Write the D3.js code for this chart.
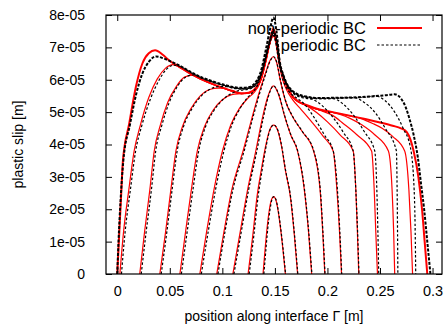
<!DOCTYPE html>
<html><head><meta charset="utf-8">
<script src="https://cdn.jsdelivr.net/npm/d3@7"></script>
<style>body{margin:0;background:#fff}svg{display:block}text{font-family:"Liberation Sans",Arial,sans-serif}</style>
</head><body><svg id="c" width="446" height="326"></svg>
<script>
// y values in units of 1e-5 m
const Y_UNIT = 1e-5;
const xTicks = [0, 0.05, 0.1, 0.15, 0.2, 0.25, 0.3];
const xTickLabels = ["0", "0.05", "0.1", "0.15", "0.2", "0.25", "0.3"];
const yTicks = [0, 1e-5, 2e-5, 3e-5, 4e-5, 5e-5, 6e-5, 7e-5, 8e-5];
const yTickLabels = ["0", "1e-05", "2e-05", "3e-05", "4e-05", "5e-05", "6e-05", "7e-05", "8e-05"];
const seriesNames = ["non-periodic BC", "periodic BC"];

// non-periodic BC (red), curves from innermost (c1) to outermost (c10)
const red_c1 = [[0.1387,0],[0.1405,0.7],[0.1425,1.4],[0.1448,2.0],[0.1468,2.3],[0.1488,2.39],[0.1508,2.3],[0.1528,2.0],[0.155,1.5],[0.1575,0.8],[0.160,0]];
const red_c2 = [[0.1245,0],[0.129,1.2],[0.133,2.39],[0.137,3.2],[0.1415,4.0],[0.145,4.45],[0.1488,4.6],[0.1525,4.45],[0.156,4.0],[0.160,3.2],[0.1647,2.39],[0.1685,1.2],[0.1716,0]];
const red_c3 = [[0.110,0],[0.117,1.3],[0.124,2.6],[0.132,3.83],[0.138,4.8],[0.143,5.45],[0.1485,5.81],[0.154,5.5],[0.159,4.9],[0.165,4.3],[0.1715,3.8],[0.178,2.6],[0.182,1.3],[0.185,0]];
const red_c4 = [[0.0947,0],[0.1015,1.3],[0.109,2.6],[0.120,3.83],[0.128,4.8],[0.135,5.6],[0.141,6.2],[0.1455,6.6],[0.1485,6.71],[0.1515,6.55],[0.155,6.0],[0.160,5.35],[0.167,4.85],[0.176,4.4],[0.1865,3.83],[0.193,2.6],[0.1955,1.3],[0.1975,0]];
const red_c5 = [[0.0786,0],[0.085,1.3],[0.092,2.6],[0.1001,3.8],[0.108,4.6],[0.116,5.1],[0.124,5.42],[0.130,5.6],[0.135,5.85],[0.139,6.3],[0.143,6.85],[0.1465,7.25],[0.1485,7.35],[0.1505,7.2],[0.1535,6.6],[0.157,6.05],[0.161,5.7],[0.167,5.38],[0.175,5.08],[0.185,4.7],[0.196,4.25],[0.2055,3.8],[0.209,2.6],[0.2115,1.3],[0.2134,0]];
const red_c6 = [[0.0596,0],[0.065,1.3],[0.0705,2.6],[0.0762,3.8],[0.083,4.55],[0.091,5.05],[0.100,5.38],[0.109,5.54],[0.117,5.57],[0.125,5.59],[0.132,5.73],[0.137,6.03],[0.141,6.52],[0.145,7.1],[0.1485,7.45],[0.1515,7.15],[0.1545,6.47],[0.158,6.08],[0.161,5.83],[0.167,5.46],[0.173,5.3],[0.180,5.2],[0.190,4.98],[0.200,4.7],[0.212,4.3],[0.2245,3.8],[0.227,2.6],[0.2285,1.3],[0.2298,0]];
const red_c7 = [[0.0405,0],[0.046,1.3],[0.051,2.6],[0.0558,3.8],[0.062,4.55],[0.070,5.1],[0.079,5.5],[0.088,5.7],[0.096,5.74],[0.100,5.74],[0.110,5.63],[0.118,5.57],[0.125,5.59],[0.132,5.74],[0.137,6.04],[0.141,6.54],[0.145,7.13],[0.1485,7.5],[0.1515,7.18],[0.1545,6.49],[0.158,6.09],[0.161,5.84],[0.167,5.47],[0.173,5.31],[0.180,5.21],[0.1925,5.06],[0.205,4.9],[0.215,4.65],[0.228,4.3],[0.242,3.8],[0.2445,2.6],[0.246,1.3],[0.2476,0]];
const red_c8 = [[0.0214,0],[0.026,1.3],[0.031,2.6],[0.0352,3.8],[0.041,4.6],[0.048,5.3],[0.056,5.78],[0.064,6.08],[0.072,6.14],[0.080,6.01],[0.090,5.87],[0.100,5.75],[0.110,5.64],[0.118,5.57],[0.125,5.59],[0.132,5.74],[0.137,6.04],[0.141,6.54],[0.145,7.14],[0.1485,7.53],[0.1515,7.19],[0.1545,6.49],[0.158,6.09],[0.161,5.84],[0.167,5.47],[0.173,5.31],[0.180,5.21],[0.1925,5.07],[0.205,4.99],[0.212,4.93],[0.222,4.8],[0.233,4.6],[0.245,4.3],[0.258,3.8],[0.2615,2.6],[0.263,1.3],[0.264,0]];
const red_c9 = [[0.0025,0],[0.006,1.3],[0.011,2.6],[0.0161,3.8],[0.022,4.6],[0.030,5.45],[0.038,6.02],[0.046,6.36],[0.053,6.47],[0.059,6.39],[0.070,6.17],[0.080,6.01],[0.090,5.87],[0.100,5.75],[0.110,5.64],[0.118,5.57],[0.125,5.59],[0.132,5.74],[0.137,6.04],[0.141,6.54],[0.145,7.14],[0.1485,7.55],[0.1515,7.19],[0.1545,6.49],[0.158,6.09],[0.161,5.84],[0.167,5.47],[0.173,5.31],[0.180,5.21],[0.1925,5.07],[0.205,4.99],[0.220,4.89],[0.232,4.8],[0.243,4.65],[0.252,4.5],[0.262,4.25],[0.2735,3.8],[0.2775,2.6],[0.2795,1.3],[0.281,0]];
const red_c10 = [[0,0],[0.0015,1.0],[0.0035,2.3],[0.0054,3.5],[0.0114,4.65],[0.0178,5.79],[0.024,6.51],[0.030,6.82],[0.036,6.91],[0.043,6.78],[0.050,6.58],[0.059,6.40],[0.070,6.18],[0.080,6.02],[0.090,5.88],[0.100,5.76],[0.110,5.65],[0.118,5.58],[0.125,5.60],[0.132,5.75],[0.137,6.05],[0.141,6.55],[0.145,7.15],[0.1485,7.58],[0.1515,7.2],[0.1545,6.5],[0.158,6.1],[0.161,5.85],[0.167,5.48],[0.173,5.32],[0.180,5.22],[0.1925,5.08],[0.205,5.0],[0.220,4.9],[0.237,4.78],[0.250,4.68],[0.262,4.58],[0.270,4.5],[0.2755,4.38],[0.279,4.15],[0.282,3.8],[0.2865,3.0],[0.290,2.0],[0.2925,1.0],[0.295,0]];

// periodic BC (black dashed)
const blk_c1 = [[0.1395,0],[0.1413,0.7],[0.1432,1.4],[0.1454,2.0],[0.1472,2.3],[0.149,2.39],[0.151,2.3],[0.153,2.0],[0.1552,1.5],[0.1577,0.8],[0.1602,0]];
const blk_c2 = [[0.1255,0],[0.130,1.2],[0.134,2.39],[0.1378,3.2],[0.142,4.0],[0.1453,4.45],[0.149,4.6],[0.1527,4.45],[0.1562,4.0],[0.1602,3.2],[0.1649,2.39],[0.1687,1.2],[0.1718,0]];
const blk_c3 = [[0.111,0],[0.118,1.3],[0.125,2.6],[0.133,3.83],[0.1388,4.8],[0.1435,5.45],[0.1487,5.81],[0.1542,5.5],[0.1592,4.9],[0.1652,4.3],[0.1717,3.8],[0.1782,2.6],[0.1822,1.3],[0.1852,0]];
const blk_c4 = [[0.0958,0],[0.1025,1.3],[0.110,2.6],[0.121,3.83],[0.1288,4.8],[0.1357,5.6],[0.1415,6.2],[0.1458,6.6],[0.1487,6.71],[0.1517,6.55],[0.1552,6.0],[0.1602,5.35],[0.1672,4.85],[0.1762,4.4],[0.1867,3.83],[0.1932,2.6],[0.1957,1.3],[0.1977,0]];
const blk_c5 = [[0.080,0],[0.0865,1.3],[0.0935,2.6],[0.1015,3.8],[0.109,4.6],[0.117,5.12],[0.124,5.45],[0.130,5.65],[0.135,5.95],[0.139,6.42],[0.143,6.95],[0.1465,7.3],[0.1485,7.37],[0.1505,7.2],[0.1535,6.6],[0.157,6.07],[0.161,5.75],[0.166,5.55],[0.170,5.45],[0.178,5.25],[0.187,4.85],[0.197,4.3],[0.2055,3.8],[0.2095,2.6],[0.2118,1.3],[0.2136,0]];
const blk_c6 = [[0.061,0],[0.0665,1.3],[0.072,2.6],[0.0775,3.8],[0.084,4.55],[0.092,5.05],[0.101,5.4],[0.110,5.6],[0.118,5.68],[0.125,5.71],[0.132,5.84],[0.137,6.14],[0.1415,6.65],[0.145,7.1],[0.1485,7.42],[0.1515,7.15],[0.1545,6.5],[0.158,6.1],[0.161,5.85],[0.166,5.62],[0.170,5.52],[0.178,5.43],[0.185,5.4],[0.195,5.2],[0.205,4.85],[0.215,4.38],[0.2245,3.8],[0.227,2.6],[0.2287,1.3],[0.230,0]];
const blk_c7 = [[0.0418,0],[0.0472,1.3],[0.0522,2.6],[0.057,3.8],[0.063,4.55],[0.071,5.1],[0.080,5.5],[0.089,5.72],[0.097,5.79],[0.104,5.79],[0.110,5.74],[0.118,5.71],[0.125,5.73],[0.132,5.86],[0.137,6.17],[0.1415,6.7],[0.145,7.15],[0.1485,7.47],[0.1515,7.2],[0.1545,6.52],[0.158,6.11],[0.161,5.86],[0.166,5.64],[0.170,5.54],[0.180,5.45],[0.190,5.42],[0.205,5.42],[0.215,5.25],[0.225,4.9],[0.235,4.4],[0.245,3.8],[0.247,2.6],[0.248,1.3],[0.2488,0]];
const blk_c8 = [[0.0228,0],[0.0275,1.3],[0.0325,2.6],[0.0366,3.8],[0.0425,4.6],[0.0495,5.3],[0.057,5.78],[0.065,6.08],[0.073,6.15],[0.080,6.05],[0.090,5.93],[0.100,5.83],[0.110,5.75],[0.118,5.72],[0.125,5.74],[0.132,5.88],[0.137,6.2],[0.1415,6.75],[0.145,7.2],[0.1485,7.5],[0.1515,7.22],[0.1545,6.54],[0.158,6.12],[0.161,5.87],[0.166,5.65],[0.170,5.55],[0.180,5.46],[0.189,5.42],[0.200,5.42],[0.215,5.44],[0.225,5.45],[0.235,5.3],[0.245,5.0],[0.255,4.5],[0.2656,3.8],[0.2663,2.6],[0.2667,1.3],[0.267,0]];
const blk_c9 = [[0.004,0],[0.0075,1.3],[0.0125,2.6],[0.0175,3.8],[0.0235,4.6],[0.0315,5.4],[0.0395,5.97],[0.047,6.33],[0.054,6.45],[0.060,6.41],[0.070,6.22],[0.080,6.06],[0.090,5.94],[0.100,5.84],[0.110,5.76],[0.118,5.73],[0.125,5.75],[0.132,5.9],[0.137,6.22],[0.1415,6.8],[0.145,7.25],[0.1485,7.55],[0.1515,7.25],[0.1545,6.55],[0.158,6.13],[0.161,5.88],[0.166,5.66],[0.170,5.56],[0.180,5.47],[0.189,5.43],[0.200,5.43],[0.220,5.44],[0.235,5.46],[0.245,5.5],[0.255,5.35],[0.264,5.0],[0.272,4.5],[0.279,3.9],[0.2825,2.6],[0.2835,1.3],[0.284,0]];
const blk_c10 = [[0,0],[0.0012,1.0],[0.0032,2.3],[0.0058,3.5],[0.012,4.6],[0.018,5.55],[0.024,6.2],[0.030,6.55],[0.037,6.72],[0.044,6.66],[0.050,6.58],[0.059,6.44],[0.070,6.24],[0.080,6.08],[0.090,5.96],[0.100,5.86],[0.110,5.78],[0.118,5.75],[0.125,5.77],[0.132,5.94],[0.137,6.3],[0.1415,6.95],[0.145,7.5],[0.1485,7.92],[0.1515,7.5],[0.1545,6.6],[0.158,6.15],[0.161,5.9],[0.166,5.68],[0.170,5.58],[0.180,5.48],[0.189,5.44],[0.200,5.44],[0.220,5.45],[0.240,5.48],[0.255,5.52],[0.264,5.55],[0.270,5.42],[0.2745,5.15],[0.278,4.8],[0.282,4.3],[0.286,3.6],[0.289,2.8],[0.292,2.0],[0.295,1.0],[0.298,0]];

const redCurves = [red_c1, red_c2, red_c3, red_c4, red_c5, red_c6, red_c7, red_c8, red_c9, red_c10];
const blackCurves = [blk_c1, blk_c2, blk_c3, blk_c4, blk_c5, blk_c6, blk_c7, blk_c8, blk_c9, blk_c10];

const svg = d3.select("#c");
const L = 106, R = 442, T = 15, B = 274;
const x = d3.scaleLinear().domain([-0.0107, 0.309]).range([L, R]);
const y = d3.scaleLinear().domain([0, 8e-5]).range([B, T]);

svg.append("defs").append("clipPath").attr("id", "clip")
  .append("rect").attr("x", L).attr("y", T).attr("width", R - L).attr("height", B - T);

const line = d3.line().x(d => x(d[0])).y(d => y(d[1] * Y_UNIT)).curve(d3.curveMonotoneX);

const plot = svg.append("g").attr("clip-path", "url(#clip)");
redCurves.forEach((c, i) => {
  plot.append("path").attr("d", line(c)).attr("fill", "none")
    .attr("stroke", "#ff0000").attr("stroke-width", i === 9 ? 2 : 1.2);
});
blackCurves.forEach((c, i) => {
  plot.append("path").attr("d", line(c)).attr("fill", "none")
    .attr("stroke", "#000").attr("stroke-width", i === 9 ? 2 : 1.2)
    .attr("stroke-dasharray", i === 9 ? "3,1.5" : "2.5,2");
});

// axes (gnuplot-style inward ticks, mirrored)
const tickLen = 6;
const axB = svg.append("g").attr("transform", `translate(0,${B})`)
  .call(d3.axisBottom(x).tickValues(xTicks).tickFormat((d, i) => xTickLabels[i]).tickSizeInner(-tickLen).tickSizeOuter(0).tickPadding(12));
const axT = svg.append("g").attr("transform", `translate(0,${T})`)
  .call(d3.axisTop(x).tickValues(xTicks).tickFormat("").tickSizeInner(-tickLen).tickSizeOuter(0));
const axL = svg.append("g").attr("transform", `translate(${L},0)`)
  .call(d3.axisLeft(y).tickValues(yTicks).tickFormat((d, i) => yTickLabels[i]).tickSizeInner(-tickLen).tickSizeOuter(0).tickPadding(21));
const axR = svg.append("g").attr("transform", `translate(${R},0)`)
  .call(d3.axisRight(y).tickValues(yTicks).tickFormat("").tickSizeInner(-tickLen).tickSizeOuter(0));
[axB, axT, axL, axR].forEach(a => {
  a.select(".domain").remove();
  a.selectAll("line").attr("stroke", "#000").attr("stroke-width", 1);
  a.selectAll("text").attr("font-size", 14).attr("fill", "#000").attr("font-family", "'Liberation Sans', Arial, sans-serif");
});
axB.selectAll("text").attr("font-size", 14.5);
svg.append("rect").attr("x", L).attr("y", T).attr("width", R - L).attr("height", B - T)
  .attr("fill", "none").attr("stroke", "#000").attr("stroke-width", 1.2);

// axis titles
svg.append("text").attr("x", (L + R) / 2).attr("y", 321).attr("text-anchor", "middle")
  .attr("font-size", 14).text("position along interface Γ [m]");
svg.append("text").attr("transform", `translate(23,${(T + B) / 2}) rotate(-90)`)
  .attr("text-anchor", "middle").attr("font-size", 14).text("plastic slip [m]");

// legend
const leg = svg.append("g");
[0, 1].forEach(i => {
  const ly = 28 + i * 17;
  leg.append("text").attr("x", 366).attr("y", ly + 5.5).attr("text-anchor", "end")
    .attr("font-size", 16.5).text(seriesNames[i]);
  leg.append("line").attr("x1", 377).attr("x2", 422).attr("y1", ly).attr("y2", ly)
    .attr("stroke", i === 0 ? "#ff0000" : "#000").attr("stroke-width", i === 0 ? 2 : 1.2)
    .attr("stroke-dasharray", i === 0 ? null : "2.5,2");
});
</script></body></html>
